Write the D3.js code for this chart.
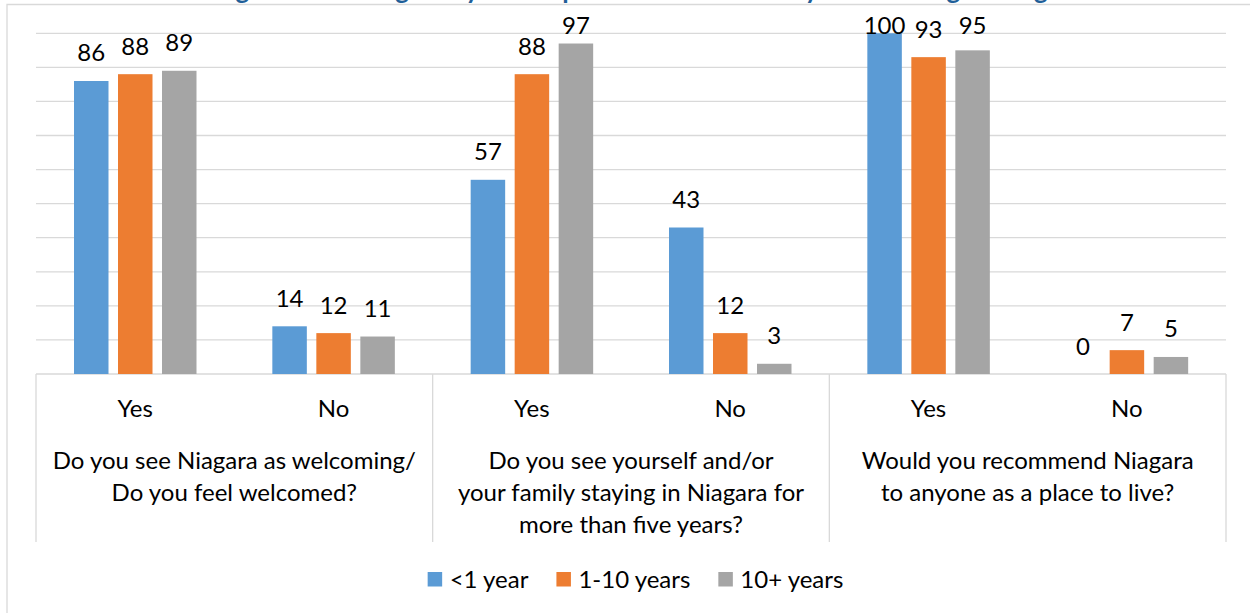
<!DOCTYPE html>
<html>
<head>
<meta charset="utf-8">
<script src="https://cdn.jsdelivr.net/npm/d3@7"></script>
<style>
  html, body { margin: 0; padding: 0; background: #fff; }
  svg { display: block; font-family: Lato, "Open Sans", sans-serif; }
</style>
</head>
<body>
<svg id="chart" width="1250" height="613"></svg>
<script>
// Survey questions (multi-line group labels) and answers
const questions = [
  ["Do you see Niagara as welcoming/", "Do you feel welcomed?"],
  ["Do you see yourself and/or", "your family staying in Niagara for", "more than five years?"],
  ["Would you recommend Niagara", "to anyone as a place to live?"]
];
const answers = ["Yes", "No"];

// Series: time lived in Niagara, percent of respondents per answer
const seriesNames = ["<1 year", "1-10 years", "10+ years"];
const lessThanOneYear = [86, 14, 57, 43, 100, 0];
const oneToTenYears  = [88, 12, 88, 12, 93, 7];
const tenPlusYears   = [89, 11, 97, 3, 95, 5];

const yTicks = [0, 10, 20, 30, 40, 50, 60, 70, 80, 90, 100];
const seriesColors = ["#5B9BD5", "#ED7D31", "#A5A5A5"];
const titleText = "Feelings toward Niagara by Time Spent in Canada and by Years Living in Niagara";

// ---- build table ----
const categories = [];
questions.forEach((q, qi) => answers.forEach(a => categories.push({ key: qi + "-" + a, q: qi, answer: a })));
const seriesValues = [lessThanOneYear, oneToTenYears, tenPlusYears];
const series = seriesNames.map((name, si) => ({ name, color: seriesColors[si], values: seriesValues[si] }));

const svg = d3.select("#chart");
const gridColor = "#d9d9d9";
const textColor = "#000";
const fontSize = 24;

const plot = { left: 36, right: 1226, top: 33.3, bottom: 374 };

const x0 = d3.scaleBand().domain(categories.map(c => c.key)).range([plot.left, plot.right]).padding(0);
const x1 = d3.scaleBand().domain(seriesNames).range([38, 160.5]).paddingInner(0.216).paddingOuter(0);
const y = d3.scaleLinear().domain([0, 100]).range([plot.bottom, plot.top]);
const xq = d3.scaleBand().domain(d3.range(questions.length)).range([plot.left, plot.right]).padding(0);

// title (runs off the top edge)
svg.append("text")
  .attr("x", 625).attr("y", -1.5)
  .attr("text-anchor", "middle")
  .attr("font-size", 26).attr("font-weight", 700)
  .attr("fill", "#1F5F99")
  .text(titleText);

// chart-area border
svg.append("path")
  .attr("d", "M7,613 V4.5 H1250")
  .attr("fill", "none").attr("stroke", gridColor).attr("stroke-width", 1.3);

// horizontal gridlines
svg.append("g").selectAll("line").data(yTicks.filter(t => t > 0)).join("line")
  .attr("x1", plot.left).attr("x2", plot.right)
  .attr("y1", d => y(d)).attr("y2", d => y(d))
  .attr("stroke", gridColor).attr("stroke-width", 1.3);

// category axis: baseline and group separators
svg.append("line")
  .attr("x1", plot.left).attr("x2", plot.right)
  .attr("y1", y(0)).attr("y2", y(0))
  .attr("stroke", gridColor).attr("stroke-width", 1.3);

const boundaries = d3.range(questions.length).map(i => xq(i)).concat([plot.right]);
svg.append("g").selectAll("line").data(boundaries).join("line")
  .attr("x1", d => d).attr("x2", d => d)
  .attr("y1", y(0)).attr("y2", 542)
  .attr("stroke", gridColor).attr("stroke-width", 1.3);

// bars
const barG = svg.append("g");
series.forEach(s => {
  barG.append("g").selectAll("rect").data(categories).join("rect")
    .attr("x", c => x0(c.key) + x1(s.name))
    .attr("width", x1.bandwidth())
    .attr("y", (c, i) => y(s.values[i]))
    .attr("height", (c, i) => y(0) - y(s.values[i]))
    .attr("fill", s.color);
});

// value labels
const labelG = svg.append("g").attr("font-size", fontSize).attr("fill", textColor).attr("text-anchor", "middle");
series.forEach(s => {
  labelG.append("g").selectAll("text").data(categories).join("text")
    .attr("x", c => x0(c.key) + x1(s.name) + x1.bandwidth() / 2)
    .attr("y", (c, i) => Math.max(y(s.values[i]) - 19.5, 33.5))
    .text((c, i) => s.values[i]);
});

// answer labels
svg.append("g").selectAll("text").data(categories).join("text")
  .attr("x", c => x0(c.key) + x0.bandwidth() / 2)
  .attr("y", 417)
  .attr("text-anchor", "middle").attr("font-size", fontSize).attr("fill", textColor)
  .text(c => c.answer);

// question labels
const qG = svg.append("g").attr("font-size", fontSize).attr("fill", textColor).attr("text-anchor", "middle");
questions.forEach((lines, qi) => {
  qG.append("text")
    .attr("x", xq(qi) + xq.bandwidth() / 2)
    .attr("y", 468.5)
    .selectAll("tspan").data(lines).join("tspan")
    .attr("x", xq(qi) + xq.bandwidth() / 2)
    .attr("dy", (d, i) => i === 0 ? 0 : 32)
    .text(d => d);
});

// legend
const legend = svg.append("g");
const sq = 14.5, gapAfterSq = 7.5, gapItems = 28;
const items = legend.selectAll("g").data(series).join("g");
items.append("rect").attr("width", sq).attr("height", sq).attr("y", 572).attr("fill", d => d.color);
items.append("text").attr("x", sq + gapAfterSq).attr("y", 588)
  .attr("font-size", fontSize).attr("fill", textColor).text(d => d.name);
let widths = [];
items.each(function () { widths.push(sq + gapAfterSq + this.querySelector("text").getComputedTextLength()); });
const total = d3.sum(widths) + gapItems * (widths.length - 1);
let cx = 635.5 - total / 2;
items.attr("transform", (d, i) => {
  const t = "translate(" + cx + ",0)";
  cx += widths[i] + gapItems;
  return t;
});
</script>
</body>
</html>
